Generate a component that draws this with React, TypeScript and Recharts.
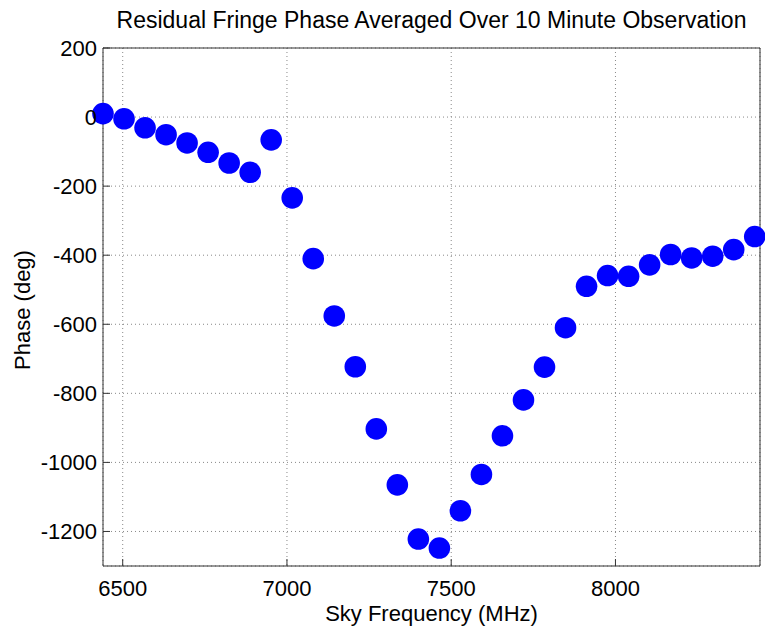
import React from 'react';
import { ScatterChart, Scatter, XAxis, YAxis, CartesianGrid, Label } from 'recharts';

// sky frequency (MHz) for each averaged channel
const frequencies = [
  6440, 6504, 6568, 6632, 6696, 6760, 6824, 6888, 6952, 7016, 7080, 7144, 7208, 7272, 7336, 7400,
  7464, 7528, 7592, 7656, 7720, 7784, 7848, 7912, 7976, 8040, 8104, 8168, 8232, 8296, 8360, 8424,
];

// residual phase (deg)
const phases = [
  10, -5, -31, -51, -75, -102, -133, -160, -66, -234, -410, -576, -723, -903, -1065, -1222,
  -1248, -1140, -1035, -923, -819, -724, -610, -490, -459, -461, -428, -398, -408, -403, -384, -346,
];

const xTicks = [6500, 7000, 7500, 8000];
const yTicks = [200, 0, -200, -400, -600, -800, -1000, -1200];
const xDomain = [6440, 8440];
const yDomain = [-1300, 200];

const TITLE = 'Residual Fringe Phase Averaged Over 10 Minute Observation';
const X_LABEL = 'Sky Frequency (MHz)';
const Y_LABEL = 'Phase (deg)';

const FONT = '"Liberation Sans", Arial, Helvetica, sans-serif';
const AXIS_COLOR = '#333';

const data = frequencies.map((freq, i) => ({ freq, phase: phases[i] }));

const Dot = (props: any) => <circle cx={props.cx} cy={props.cy} r={10.8} fill="#0000ff" />;

const TitleLabel = (props: any) => {
  const { viewBox } = props;
  return (
    <text x={viewBox.x + viewBox.width / 2} y={viewBox.y + 28} textAnchor="middle" fontSize={23} fontFamily={FONT} fill="#000">
      {TITLE}
    </text>
  );
};

const XTitle = (props: any) => {
  const { viewBox } = props;
  return (
    <text x={viewBox.x + viewBox.width / 2} y={viewBox.y + viewBox.height - 8} textAnchor="middle" fontSize={22} fontFamily={FONT} fill="#000">
      {X_LABEL}
    </text>
  );
};

const YTitle = (props: any) => {
  const { viewBox } = props;
  const x = 30;
  const y = viewBox.y + viewBox.height / 2 + 3;
  return (
    <text x={x} y={y} transform={`rotate(-90 ${x} ${y})`} textAnchor="middle" fontSize={22} fontFamily={FONT} fill="#000">
      {Y_LABEL}
    </text>
  );
};

export default function App() {
  const tickStyle = { fontSize: 22, fontFamily: FONT, fill: '#000' };
  return (
    <div style={{ width: 765, height: 629, background: '#fff' }}>
      <style>{'body { margin: 0; }'}</style>
      <ScatterChart width={765} height={629} margin={{ top: 0, right: 0, bottom: 0, left: 0 }}>
        <CartesianGrid stroke="#888" strokeDasharray="1 3" />
        <XAxis
          dataKey="freq"
          type="number"
          domain={xDomain}
          ticks={xTicks}
          height={63}
          tickSize={-7}
          tickMargin={21}
          tick={tickStyle}
          stroke={AXIS_COLOR}
        >
          <Label content={XTitle} />
        </XAxis>
        <XAxis
          xAxisId="top"
          orientation="top"
          type="number"
          domain={xDomain}
          ticks={xTicks}
          allowDataOverflow
          height={48}
          tickSize={-7}
          tick={false}
          stroke={AXIS_COLOR}
        >
          <Label content={TitleLabel} />
        </XAxis>
        <YAxis
          dataKey="phase"
          type="number"
          domain={yDomain}
          ticks={yTicks}
          width={103}
          tickSize={-7}
          tickMargin={13}
          tick={tickStyle}
          stroke={AXIS_COLOR}
        >
          <Label content={YTitle} />
        </YAxis>
        <YAxis
          yAxisId="right"
          orientation="right"
          type="number"
          domain={yDomain}
          ticks={yTicks}
          allowDataOverflow
          width={5}
          tickSize={-7}
          tick={false}
          stroke={AXIS_COLOR}
        />
        <Scatter data={data} shape={Dot} isAnimationActive={false} />
      </ScatterChart>
    </div>
  );
}
